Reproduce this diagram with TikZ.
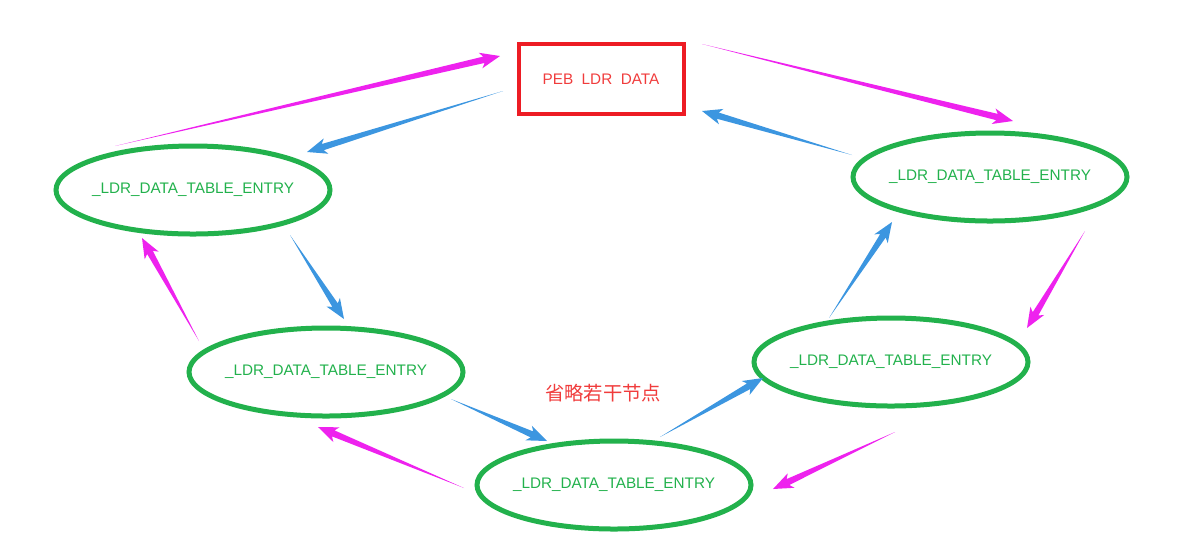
\documentclass[tikz,border=0pt]{standalone}
\usepackage{fontspec}
\setmainfont{Liberation Sans}
\newfontfamily\cjk{Noto Sans CJK SC}
\usetikzlibrary{shapes.geometric,calc}

\definecolor{entrygreen}{RGB}{34,177,76}
\definecolor{pebred}{RGB}{237,28,36}
\definecolor{textred}{RGB}{240,60,60}
\definecolor{nextpink}{RGB}{238,34,238}
\definecolor{prevblue}{RGB}{60,150,224}

\tikzset{
  entry/.style={ellipse,draw=entrygreen,line width=1mm,minimum width=54.8mm,
    minimum height=17.6mm,inner xsep=-1.5mm,inner ysep=0pt,text=entrygreen,
    font=\fontsize{8.7}{10}\selectfont},
  pebbox/.style={rectangle,draw=pebred,line width=0.8mm,minimum width=33mm,
    minimum height=14mm,inner sep=0pt,text=textred,font=\fontsize{8.7}{10}\selectfont}
}

% tapered arrow: colour, tail, tip
\newcommand{\taper}[3]{%
  \coordinate (ta-b) at ($(#3)!4mm!(#2)$);
  \coordinate (ta-n) at ($(#3)!3.3mm!(#2)$);
  \fill[#1] (#2) -- ($(ta-n)!0.65mm!90:(#3)$) -- ($(ta-b)!1.6mm!90:(#3)$) -- (#3)
    -- ($(ta-b)!1.6mm!-90:(#3)$) -- ($(ta-n)!0.65mm!-90:(#3)$) -- cycle;
}

\begin{document}
\begin{tikzpicture}[x=0.2mm,y=-0.2mm]
  \useasboundingbox (0,0) rectangle (1195,547);

  % nodes
  \node[pebbox] (peb) at (601,79) {PEB~~LDR~~DATA};
  \node[entry] (e1) at (193,190) {\_LDR\_DATA\_TABLE\_ENTRY};
  \node[entry] (e2) at (990,177) {\_LDR\_DATA\_TABLE\_ENTRY};
  \node[entry] (e3) at (326,372) {\_LDR\_DATA\_TABLE\_ENTRY};
  \node[entry] (e4) at (891,362) {\_LDR\_DATA\_TABLE\_ENTRY};
  \node[entry] (e5) at (614,485) {\_LDR\_DATA\_TABLE\_ENTRY};
  \node[text=textred,font=\cjk\fontsize{11}{13}\selectfont] (skip) at (603,393) {省略若干节点};

  % arrow ends
  \path
  (115,146) coordinate (m1s) (500,56) coordinate (m1e)
  (702,44) coordinate (m2s) (1013,121) coordinate (m2e)
  (1085,231) coordinate (m3s) (1027,328) coordinate (m3e)
  (895,432) coordinate (m4s) (773,489) coordinate (m4e)
  (464,488) coordinate (m5s) (318,427) coordinate (m5e)
  (199,341) coordinate (m6s) (142,238) coordinate (m6e);
  \path
  (503,91) coordinate (b1s) (307,152) coordinate (b1e)
  (290,235) coordinate (b2s) (344,319) coordinate (b2e)
  (451,399) coordinate (b3s) (547,441) coordinate (b3e)
  (660,437) coordinate (b4s) (763,378) coordinate (b4e)
  (829,318) coordinate (b5s) (892,222) coordinate (b5e)
  (852,155) coordinate (b6s) (702,111) coordinate (b6e);

  % forward links
  \foreach \i in {1,...,6} {\taper{nextpink}{m\i s}{m\i e}}
  % backward links
  \foreach \i in {1,...,6} {\taper{prevblue}{b\i s}{b\i e}}

\end{tikzpicture}
\end{document}
